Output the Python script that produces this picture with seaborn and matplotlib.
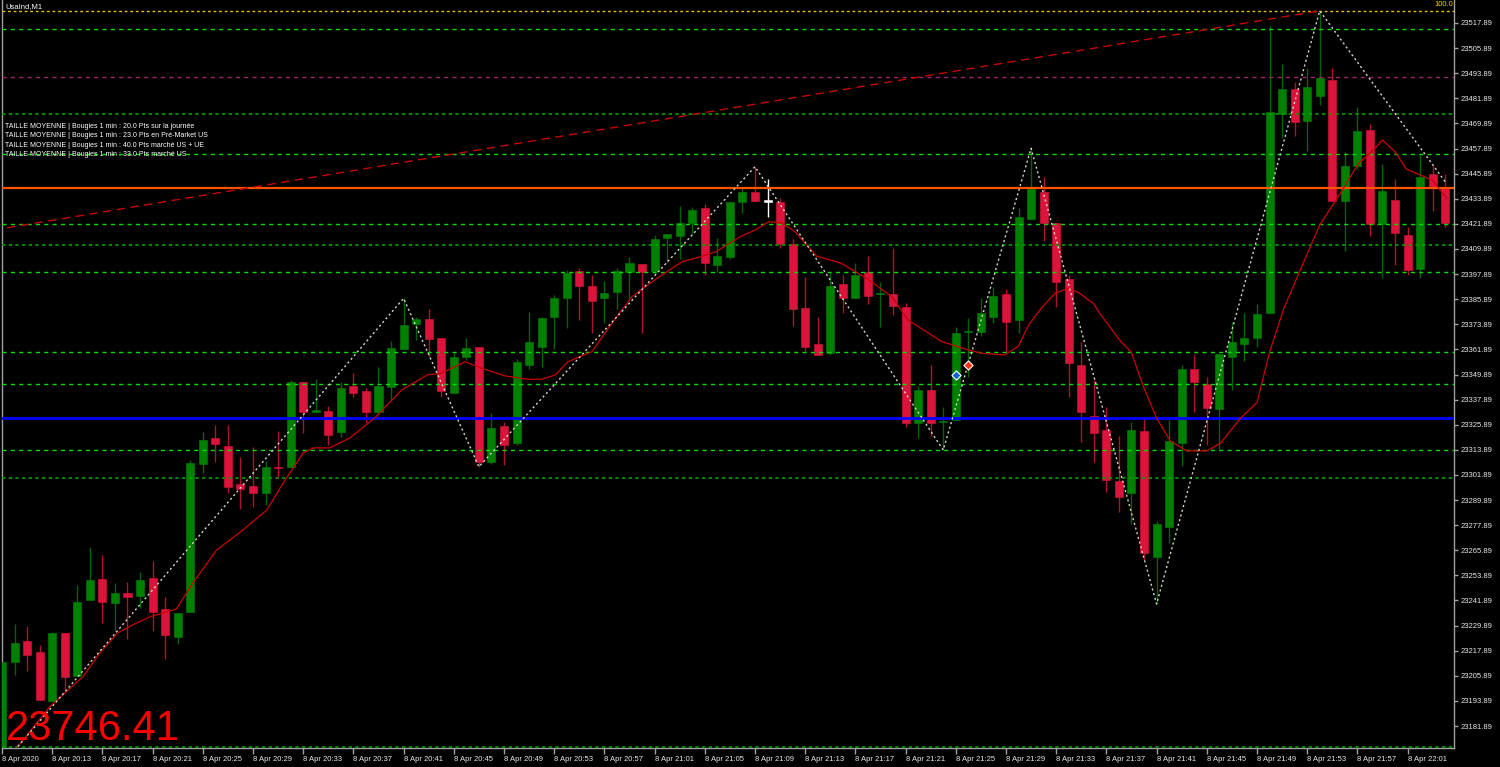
import numpy as np
import pandas as pd
import matplotlib
matplotlib.use("Agg")
import matplotlib.pyplot as plt
import seaborn as sns

# --- candles: UsaInd M1, 8 Apr 2020, first bar 20:09 ---
opens = [23165.0, 23212.4, 23222.5, 23217.3, 23194.0, 23226.2, 23205.9, 23242.1, 23252.2, 23240.5,
         23245.3, 23244.2, 23252.5, 23237.7, 23224.3, 23236.2, 23307.1, 23319.4, 23315.6, 23297.5,
         23296.6, 23293.4, 23305.5, 23305.5, 23346.2, 23332.1, 23332.5, 23322.6, 23344.4, 23342.1,
         23332.1, 23344.1, 23362.2, 23374.0, 23376.3, 23367.2, 23341.2, 23358.1, 23363.0, 23308.2,
         23325.4, 23317.3, 23354.5, 23363.2, 23377.2, 23386.3, 23399.2, 23392.3, 23386.3, 23389.2,
         23399.0, 23402.6, 23399.5, 23415.0, 23416.1, 23422.2, 23429.3, 23402.2, 23406.2, 23432.5,
         23437.3, 23432.5, 23432.2, 23412.1, 23381.5, 23364.3, 23360.3, 23393.1, 23386.3, 23398.7,
         23388.2, 23388.2, 23382.3, 23326.9, 23342.5, 23327.3, 23328.1, 23370.0, 23370.0, 23377.5,
         23388.4, 23375.9, 23424.1, 23437.3, 23422.2, 23395.4, 23354.5, 23330.2, 23323.4, 23299.2,
         23293.2, 23322.7, 23262.7, 23277.1, 23317.1, 23352.7, 23345.4, 23333.2, 23358.2, 23364.5,
         23367.5, 23379.5, 23474.5, 23486.4, 23471.1, 23483.1, 23490.5, 23433.0, 23449.4, 23466.6,
         23421.7, 23433.3, 23416.4, 23400.5, 23445.7, 23438.9]
highs = [23212.4, 23230.6, 23229.7, 23220.5, 23227.0, 23226.2, 23249.3, 23267.6, 23263.6, 23250.1,
         23250.6, 23255.6, 23260.8, 23243.7, 23235.8, 23309.0, 23322.4, 23325.8, 23325.8, 23310.6,
         23315.1, 23308.7, 23322.9, 23347.3, 23346.2, 23347.6, 23334.8, 23346.5, 23350.4, 23343.3,
         23353.3, 23366.1, 23386.3, 23377.5, 23381.2, 23367.2, 23360.3, 23367.2, 23363.0, 23331.3,
         23327.0, 23357.3, 23379.6, 23377.5, 23387.7, 23399.8, 23400.9, 23397.4, 23394.6, 23400.6,
         23406.2, 23402.6, 23416.4, 23417.0, 23430.4, 23429.8, 23431.4, 23415.0, 23432.5, 23438.9,
         23449.2, 23443.2, 23434.1, 23414.7, 23396.6, 23377.2, 23398.5, 23397.4, 23403.0, 23406.5,
         23394.2, 23410.5, 23384.2, 23344.4, 23354.4, 23334.5, 23372.4, 23376.8, 23386.3, 23391.6,
         23390.6, 23429.3, 23458.0, 23444.1, 23422.2, 23397.4, 23365.6, 23347.3, 23334.5, 23320.4,
         23327.3, 23329.5, 23279.7, 23328.2, 23354.6, 23359.2, 23348.5, 23359.5, 23375.2, 23379.5,
         23383.5, 23516.4, 23498.4, 23489.6, 23496.6, 23523.7, 23496.4, 23456.0, 23477.6, 23469.7,
         23450.5, 23443.1, 23420.4, 23454.9, 23449.4, 23445.9]
lows = [23160.0, 23206.3, 23208.2, 23194.3, 23194.0, 23199.4, 23205.9, 23242.1, 23230.9, 23227.3,
        23223.3, 23238.1, 23227.3, 23214.1, 23220.9, 23236.2, 23303.0, 23308.2, 23293.4, 23285.5,
        23286.7, 23287.5, 23300.6, 23305.5, 23322.1, 23331.6, 23316.2, 23320.2, 23339.3, 23326.6,
        23330.5, 23337.4, 23362.2, 23366.4, 23358.4, 23339.3, 23341.2, 23356.8, 23305.8, 23307.1,
        23306.6, 23316.2, 23352.4, 23353.6, 23362.2, 23372.2, 23375.9, 23369.6, 23374.4, 23381.0,
        23385.5, 23369.9, 23398.3, 23403.8, 23404.9, 23417.0, 23397.5, 23399.0, 23404.9, 23427.2,
        23433.0, 23425.3, 23410.2, 23373.2, 23361.3, 23359.2, 23359.2, 23379.1, 23386.3, 23383.4,
        23372.4, 23378.3, 23324.6, 23319.7, 23320.5, 23313.8, 23328.1, 23348.8, 23368.3, 23374.6,
        23360.0, 23369.9, 23424.1, 23413.8, 23382.0, 23339.3, 23317.8, 23308.2, 23293.9, 23284.3,
        23278.4, 23261.2, 23240.2, 23269.2, 23306.1, 23331.9, 23316.2, 23314.4, 23342.4, 23356.4,
        23363.2, 23379.5, 23462.8, 23464.1, 23456.9, 23478.9, 23433.0, 23409.0, 23448.1, 23416.2,
        23395.9, 23402.0, 23397.3, 23396.0, 23428.2, 23420.4]
closes = [23212.4, 23221.4, 23215.8, 23194.3, 23226.2, 23205.2, 23241.3, 23251.5, 23241.3, 23245.5,
          23243.4, 23251.5, 23236.2, 23225.4, 23235.8, 23307.6, 23318.6, 23316.5, 23296.3, 23295.2,
          23293.4, 23305.5, 23305.0, 23346.2, 23332.1, 23332.1, 23320.9, 23343.3, 23341.2, 23332.1,
          23344.4, 23362.4, 23373.4, 23376.6, 23366.9, 23342.1, 23358.1, 23362.4, 23308.2, 23324.5,
          23316.2, 23355.7, 23365.3, 23376.8, 23386.6, 23398.5, 23392.2, 23385.1, 23388.7, 23399.5,
          23403.0, 23399.0, 23414.5, 23417.0, 23422.3, 23428.5, 23403.3, 23406.5, 23432.2, 23437.3,
          23433.0, 23432.5, 23412.1, 23381.0, 23363.2, 23359.2, 23392.3, 23386.3, 23397.4, 23387.4,
          23388.2, 23382.6, 23326.9, 23342.5, 23326.9, 23327.3, 23369.6, 23370.0, 23379.1, 23387.4,
          23375.1, 23425.3, 23438.6, 23422.2, 23394.2, 23355.2, 23332.1, 23322.1, 23299.5, 23291.3,
          23323.2, 23264.5, 23278.4, 23318.1, 23352.5, 23346.1, 23334.1, 23359.5, 23365.4, 23367.3,
          23378.6, 23475.4, 23486.4, 23470.8, 23487.2, 23491.5, 23433.0, 23449.4, 23466.2, 23421.9,
          23437.6, 23417.3, 23399.9, 23444.4, 23438.9, 23422.1]
white_doji = [61]

# moving average (bar position, price)
ma_pos = [1.0, 3.8, 6.45, 7.8, 9.2, 10.4, 11.8, 13.9, 15.2, 17.1, 19.2, 21.1, 22.4, 24.0, 24.8, 26.1,
          27.7, 29.7, 31.85, 33.9, 35.0, 36.9, 38.2, 40.1, 41.9, 43.0, 44.1, 45.1, 47.0, 48.6, 50.2,
          52.0, 54.2, 55.5, 56.9, 58.8, 60.0, 61.1, 62.1, 63.2, 64.9, 66.9, 69.0, 70.9, 72.2, 74.9,
          77.0, 78.1, 79.9, 81.0, 81.8, 82.8, 83.9, 85.0, 85.8, 87.0, 87.5, 89.1, 90.0, 90.9, 92.0,
          93.1, 94.4, 96.0, 97.1, 98.7, 100.0, 101.0, 102.1, 103.4, 105.0, 106.6, 108.1, 109.0,
          110.0, 111.0, 111.9, 113.0, 114.0, 115.1]
ma_val = [23170.0, 23191.1, 23205.5, 23216.8, 23226.3, 23230.2, 23234.1, 23237.8, 23250.2, 23266.0,
          23275.6, 23285.1, 23298.0, 23312.4, 23314.8, 23314.8, 23319.5, 23329.1, 23342.5, 23349.7,
          23350.5, 23356.0, 23352.9, 23349.2, 23347.6, 23347.6, 23349.7, 23356.0, 23360.8, 23374.4,
          23387.1, 23395.1, 23403.8, 23405.9, 23408.6, 23415.7, 23418.9, 23422.9, 23422.4, 23418.1,
          23406.5, 23403.0, 23395.4, 23387.1, 23375.9, 23365.6, 23361.6, 23360.0, 23359.2, 23363.5,
          23373.5, 23381.5, 23388.7, 23391.1, 23389.0, 23383.6, 23378.9, 23366.0, 23360.4, 23344.8,
          23329.1, 23318.1, 23313.4, 23313.4, 23317.1, 23329.1, 23336.5, 23360.4, 23380.8, 23399.2,
          23421.3, 23436.1, 23450.9, 23455.5, 23461.9, 23456.4, 23448.1, 23445.3, 23442.6, 23434.2]

# zigzag pivots
zz_pos = [0, 32, 38, 60, 75, 82, 92, 105, 115]
zz_val = [23163.3, 23386.3, 23305.8, 23449.2, 23313.8, 23458.0, 23240.2, 23523.7, 23442.0]

# trend line
trend_pos = [0.4, 105]
trend_val = [23420.0, 23523.7]

# horizontal levels
levels_bright = [23514.9, 23455.1, 23421.7, 23398.8, 23360.5, 23345.2, 23314.0]
levels_dark = [23474.4, 23411.8, 23300.5, 23171.7]
level_purple = 23491.9
level_yellow = 23523.5
level_orange = 23439.0
level_blue = 23329.1

# trade markers
buy_mark = (76, 23349.7)
sell_mark = (77, 23354.4)

price_ticks = [23517.89, 23505.89, 23493.89, 23481.89, 23469.89, 23457.89, 23445.89, 23433.89,
               23421.89, 23409.89, 23397.89, 23385.89, 23373.89, 23361.89, 23349.89, 23337.89,
               23325.89, 23313.89, 23301.89, 23289.89, 23277.89, 23265.89, 23253.89, 23241.89,
               23229.89, 23217.89, 23205.89, 23193.89, 23181.89]
time_labels = ["8 Apr 2020", "8 Apr 20:13", "8 Apr 20:17", "8 Apr 20:21", "8 Apr 20:25",
               "8 Apr 20:29", "8 Apr 20:33", "8 Apr 20:37", "8 Apr 20:41", "8 Apr 20:45",
               "8 Apr 20:49", "8 Apr 20:53", "8 Apr 20:57", "8 Apr 21:01", "8 Apr 21:05",
               "8 Apr 21:09", "8 Apr 21:13", "8 Apr 21:17", "8 Apr 21:21", "8 Apr 21:25",
               "8 Apr 21:29", "8 Apr 21:33", "8 Apr 21:37", "8 Apr 21:41", "8 Apr 21:45",
               "8 Apr 21:49", "8 Apr 21:53", "8 Apr 21:57", "8 Apr 22:01"]
info_lines = ["TAILLE MOYENNE | Bougies 1 min : 20.0 Pts sur la journée",
              "TAILLE MOYENNE | Bougies 1 min : 23.0 Pts en Pré-Market US",
              "TAILLE MOYENNE | Bougies 1 min : 40.0 Pts marché US + UE",
              "TAILLE MOYENNE | Bougies 1 min : 33.0 Pts marché US"]
symbol_label = "UsaInd,M1"
big_price = "23746.41"

# ---------------------------------------------------------------
sns.set_style("dark", {"axes.facecolor": "black", "figure.facecolor": "black"})
plt.rcParams['font.family'] = ['Liberation Sans', 'DejaVu Sans']

W, H = 1500, 767
fig = plt.figure(figsize=(W / 100, H / 100), dpi=100)
ax = fig.add_axes([2 / W, 19 / H, 1452 / W, 748 / H])
ax.set_facecolor('black')

df = pd.DataFrame({'open': opens, 'high': highs, 'low': lows, 'close': closes})
df['pos'] = np.arange(len(df))
df['up'] = df.close >= df.open
df['body_col'] = np.where(df.up, '#008000', '#dc143c')
df['wick_col'] = np.where(df.up, '#006400', '#b0102e')
df.loc[white_doji, 'body_col'] = '#ffffff'
df.loc[white_doji, 'wick_col'] = '#ffffff'
df['bottom'] = df[['open', 'close']].min(axis=1)
df['height'] = (df.close - df.open).abs().clip(lower=0.6)

# wicks then bodies
ax.vlines(df.pos, df.low, df.high, colors=df.wick_col, lw=1, zorder=2)
ax.bar(df.pos, df.height, bottom=df.bottom, width=0.64, color=df.body_col,
       edgecolor=df.body_col, linewidth=0.4, zorder=3)

# horizontal levels
for lv in levels_bright:
    ax.axhline(lv, color='#00dd00', lw=1, ls=(0, (3, 3)), zorder=4)
for lv in levels_dark:
    ax.axhline(lv, color='#00a000', lw=1.2, ls=(0, (2, 2)), zorder=4)
ax.axhline(level_purple, color='#a0226e', lw=1, ls=(0, (3, 3)), zorder=4)
ax.axhline(level_yellow, color='#e6c000', lw=1, ls=(0, (2, 2)), zorder=4)
ax.axhline(level_orange, color='#ff5500', lw=1.6, zorder=4)
ax.axhline(level_blue, color='#0000ff', lw=2, zorder=4)

# trend line, moving average, zigzag
sns.lineplot(x=trend_pos, y=trend_val, ax=ax, color='#c80000', lw=1, ls=(0, (6, 4)),
             zorder=5, legend=False)
sns.lineplot(x=ma_pos, y=ma_val, ax=ax, color='#cc0000', lw=0.9, zorder=6, sort=False,
             legend=False)
sns.lineplot(x=zz_pos, y=zz_val, ax=ax, color='#d8d8c8', lw=1, ls=(0, (1.5, 2)), zorder=7,
             sort=False, legend=False)

ax.scatter([buy_mark[0]], [buy_mark[1]], marker='D', s=22, color='#1060d0',
           edgecolor='white', linewidth=0.8, zorder=8)
ax.scatter([sell_mark[0]], [sell_mark[1]], marker='D', s=22, color='#ff3010',
           edgecolor='white', linewidth=0.8, zorder=8)

# axes
ax.set_xlim(0, 115.7)
ax.set_ylim(23171.38, 23528.88)
ax.grid(False)
for side in ['left', 'bottom', 'right']:
    ax.spines[side].set_color('#a0a0a0')
    ax.spines[side].set_linewidth(1)
    ax.spines[side].set_visible(True)
ax.spines['top'].set_visible(False)

ax.yaxis.tick_right()
ax.set_yticks(price_ticks)
ax.set_yticklabels([f"{p:.2f}" for p in price_ticks])
ax.tick_params(axis='y', which='both', right=True, left=False, length=3, width=1,
               color='#a0a0a0', labelcolor='#e8e8e8', labelsize=5.5, pad=2)

ax.set_xticks(np.arange(0, 4 * len(time_labels), 4))
ax.set_xticklabels(time_labels, ha='left')
ax.tick_params(axis='x', which='both', bottom=True, length=4, width=1, color='#a0a0a0',
               labelcolor='#e8e8e8', labelsize=5.5, pad=1.5)
ax.set_xlabel('')
ax.set_ylabel('')

# texts
fig.text(5 / W, 1 - 7 / H, symbol_label, color='white', fontsize=5.5, va='center', ha='left')
for k, line in enumerate(info_lines):
    fig.text(5 / W, 1 - (126.5 + 9.3 * k) / H, line, color='white', fontsize=5, va='center',
             ha='left', zorder=10)
fig.text(1453 / W, 1 - 5 / H, "100.0", color='#ffd000', fontsize=5.5, va='center', ha='right')
fig.text(6 / W, 1 - 740 / H, big_price, color='#ff0000', fontsize=30, va='baseline', ha='left')

fig.savefig('out.png', dpi=100, facecolor='black')
